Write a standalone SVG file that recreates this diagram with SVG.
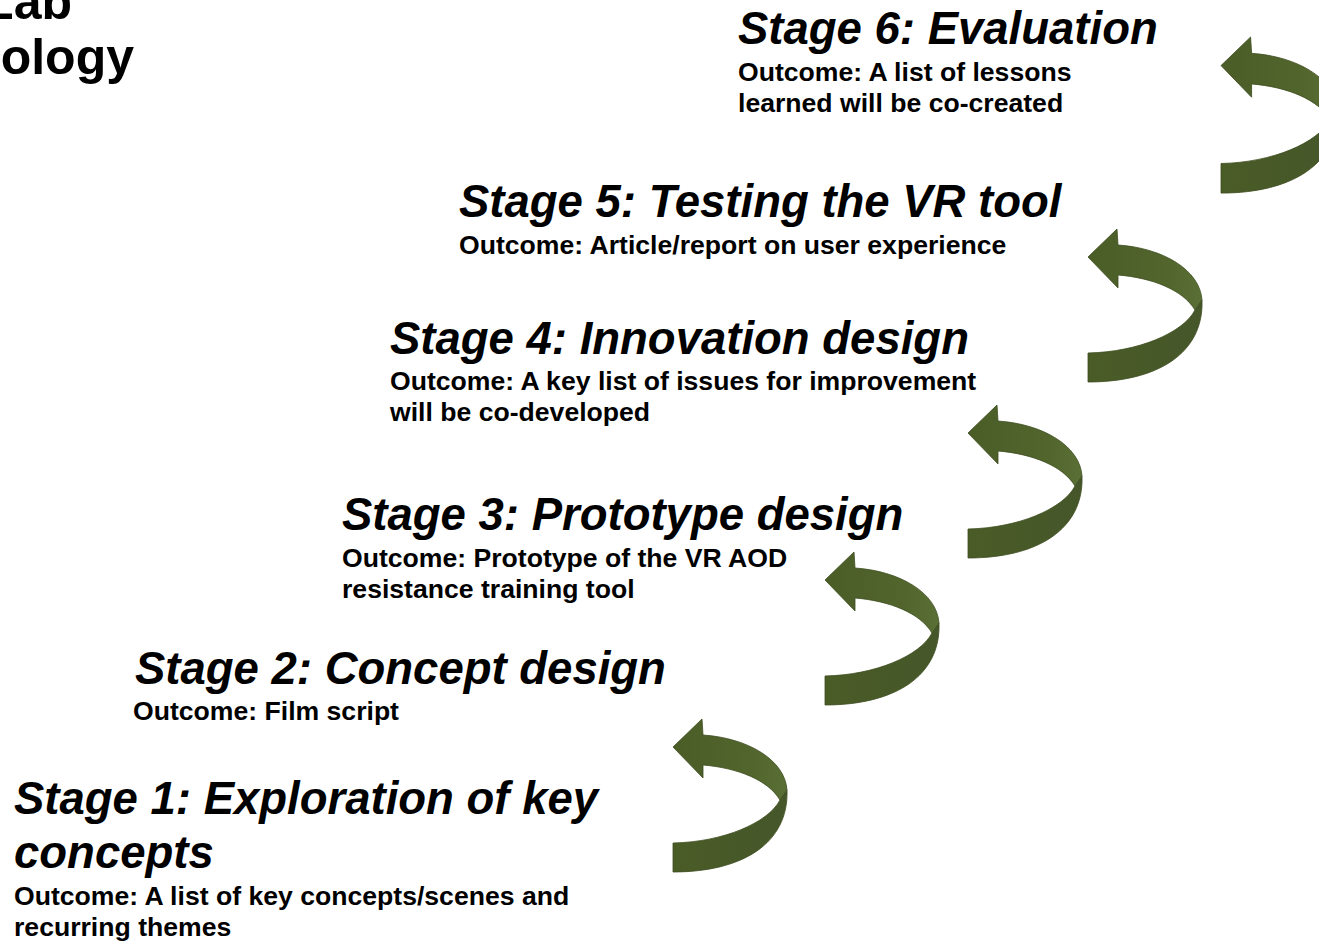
<svg xmlns="http://www.w3.org/2000/svg" width="1319" height="945" viewBox="0 0 1319 945">
  <style>
    .title { font-family: "Liberation Sans", Arial, sans-serif; font-weight: bold; font-style: italic; font-size: 45.5px; fill: #000; }
    .out { font-family: "Liberation Sans", Arial, sans-serif; font-weight: bold; font-size: 26.6px; fill: #000; }
    .head { font-family: "Liberation Sans", Arial, sans-serif; font-weight: bold; font-size: 50px; fill: #000; }
    .ribbon-up { fill: url(#gUp); stroke: #3e4c1f; stroke-width: 0.8; }
    .ribbon-low { fill: url(#gLow); stroke: #3e4c1f; stroke-width: 0.8; }
  </style>
  <defs>
    <linearGradient id="gUp" x1="0" y1="0" x2="1" y2="0">
      <stop offset="0" stop-color="#4b5d27"/>
      <stop offset="0.7" stop-color="#51652d"/>
      <stop offset="1" stop-color="#5a6f35"/>
    </linearGradient>
    <linearGradient id="gLow" x1="1" y1="0" x2="0" y2="0">
      <stop offset="0" stop-color="#45562a"/>
      <stop offset="1" stop-color="#4a5c26"/>
    </linearGradient>
    <!-- curved back-arrow: head + upper band, then the twisted lower band -->
    <g id="turnArrow">
      <path class="ribbon-low" d="M114,72 C116,125 70,154 0,154 L0,125 C50,124 95,105 107,82 Z"/>
      <path class="ribbon-up" d="M0,29 L29,1 L30,17 C75,20 112,42 114,72 L107,82 C95,62 65,50 30,47 L30,60 Z"/>
    </g>
  </defs>

  <rect width="1319" height="945" fill="#ffffff"/>

  <!-- heading, cut off at the top-left corner -->
  <g id="heading">
    <text class="head" x="72" y="19" text-anchor="end">Lab</text>
    <text class="head" x="134" y="74" text-anchor="end">ology</text>
  </g>

  <!-- arrows linking one stage to the next -->
  <g id="connectors">
    <use href="#turnArrow" transform="translate(673,718)"/>
    <use href="#turnArrow" transform="translate(825,551)"/>
    <use href="#turnArrow" transform="translate(968,404)"/>
    <use href="#turnArrow" transform="translate(1088,228)"/>
    <use href="#turnArrow" transform="translate(1221,36) scale(1.02)"/>
  </g>

  <g id="stage6">
    <text class="title" x="738" y="44">Stage 6: Evaluation</text>
    <text class="out" x="738" y="81">Outcome: A list of lessons</text>
    <text class="out" x="738" y="112">learned will be co-created</text>
  </g>

  <g id="stage5">
    <text class="title" x="459" y="217">Stage 5: Testing the VR tool</text>
    <text class="out" x="459" y="254">Outcome: Article/report on user experience</text>
  </g>

  <g id="stage4">
    <text class="title" x="390" y="354">Stage 4: Innovation design</text>
    <text class="out" x="390" y="390">Outcome: A key list of issues for improvement</text>
    <text class="out" x="390" y="421">will be co-developed</text>
  </g>

  <g id="stage3">
    <text class="title" x="342" y="530">Stage 3: Prototype design</text>
    <text class="out" x="342" y="567">Outcome: Prototype of the VR AOD</text>
    <text class="out" x="342" y="598">resistance training tool</text>
  </g>

  <g id="stage2">
    <text class="title" x="135" y="684">Stage 2: Concept design</text>
    <text class="out" x="133" y="720">Outcome: Film script</text>
  </g>

  <g id="stage1">
    <text class="title" x="14" y="814">Stage 1: Exploration of key</text>
    <text class="title" x="14" y="868">concepts</text>
    <text class="out" x="14" y="905">Outcome: A list of key concepts/scenes and</text>
    <text class="out" x="14" y="936">recurring themes</text>
  </g>
</svg>
